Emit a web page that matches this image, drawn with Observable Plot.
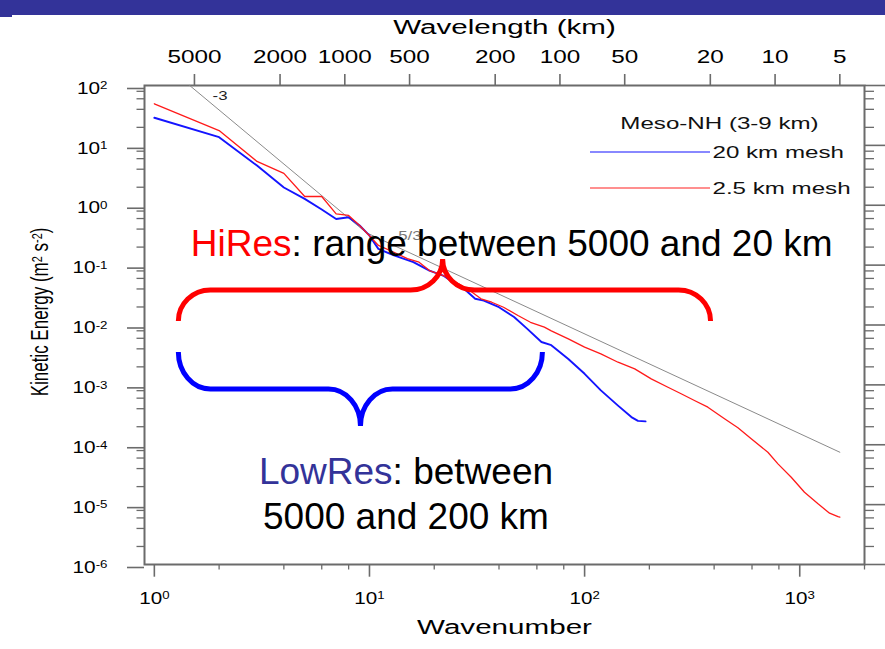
<!DOCTYPE html>
<html><head><meta charset="utf-8">
<script src="https://cdn.jsdelivr.net/npm/d3@7"></script>
<script src="https://cdn.jsdelivr.net/npm/@observablehq/plot@0.6"></script>
<style>
html,body{margin:0;padding:0;background:#fff;}
#wrap{position:relative;width:885px;height:649px;overflow:hidden;background:#fff;}
#band{position:absolute;left:0;top:0;width:885px;height:15px;background:#333399;}
#band2{position:absolute;left:0;top:0;width:12px;height:17px;background:#333399;}
</style></head>
<body><div id="wrap"><div id="chart"></div><div id="band"></div><div id="band2"></div></div>
<script>
// ---- data ----
const seriesNames = ["20 km mesh", "2.5 km mesh"];
const seriesColors = ["#1414ff", "#ff1a1a"];
const legendColors = ["#6060ff", "#ff6a6a"];
const legendTitle = "Meso-NH (3-9 km)";

const blueK = [1,2,3,4,5,6,7,8,9,10,11,13,16,19,22,25,28,31,34,40,47,54,63,70,84,100,119,143,165,177,192];
const blueE = [28.9,13.7,4.6,1.98,1.28,0.85,0.59,0.63,0.46,0.31,0.187,0.145,0.112,0.081,0.067,0.049,0.038,0.0274,0.0256,0.0198,0.0136,0.0087,0.0052,0.0046,0.0027,0.00153,0.00081,0.00045,0.00029,0.00025,0.000246];

const redK = [1,2,3,4,5,6,7,8,9,10,11,13,15,17,19,22,26,30,33,37,42,49,56,65,70,84,100,119,143,171,204,244,281,324,374,447,516,595,711,792,913,1052,1216,1376,1506,1536];
const redE = [49.5,17.7,5.4,3.4,1.40,1.40,0.72,0.675,0.46,0.31,0.213,0.164,0.128,0.112,0.081,0.067,0.0488,0.0353,0.0274,0.024,0.0198,0.0144,0.0111,0.0092,0.0080,0.00588,0.00426,0.0033,0.00239,0.00185,0.00126,0.000914,0.00071,0.000548,0.000424,0.000271,0.000192,0.000126,7.5e-5,4.8e-5,2.87e-5,1.61e-5,1.03e-5,7.2e-6,6.3e-6,6.2e-6];

// reference slope lines (-3 then -5/3)
const refK = [1.46, 9.64, 1536];
const refE = [100, 0.35, 7.5e-5];
const slopeLabels = ["-3", "5/3"];
const slopeLabelK = [2.02, 15.4];
const slopeLabelE = [66, 0.31];

// axes
const xDecades = [1, 10, 100, 1000];
const yDecades = [1e-6, 1e-5, 1e-4, 1e-3, 1e-2, 1e-1, 1, 10, 100];
const minorMult = [2, 4, 6, 8];
const domainKm = 7680;
const wavelengthTicks = [5000, 2000, 1000, 500, 200, 100, 50, 20, 10, 5];
const wavelengthLabels = ["5000", "2000", "1000", "500", "200", "100", "50", "20", "10", "5"];

// annotations
const braceNames = ["HiRes", "LowRes"];
const braceColors = ["#ff0000", "#0000ff"];
const braceStartK = [1.30, 1.30];
const braceEndK = [387, 64];
const braceTipK = [22, 9.13];
const braceLineE = [0.0377, 8.37e-4];
const braceTipE = [0.124, 2.02e-4];
const annoTexts = ["HiRes: range between 5000 and 20 km", "LowRes: between\n5000 and 200 km"];
const annoK = [1.478, 14.78];
const annoE = [0.228, 1.63e-5];
const annoColors = ["#ff0000", "#333399"];

// ---- derived ----
const xMinor = xDecades.flatMap(d => minorMult.map(m => m * d)).filter(v => v <= 2000);
const yMinor = yDecades.slice(0, -1).flatMap(d => minorMult.map(m => m * d));
const wlK = wavelengthTicks.map(L => domainKm / L);
const pow = v => "10^" + Math.round(Math.log10(v));

const axisColor = "#6b6b6b";

function bracesMark(index, scales) {
  const {x, y} = scales;
  const g = d3.create("svg:g").attr("fill", "none").attr("stroke-width", 5);
  const rx = 32;
  braceNames.forEach((name, i) => {
    const x0 = x(braceStartK[i]), x1 = x(braceEndK[i]), xm = x(braceTipK[i]);
    const yl = y(braceLineE[i]), yt = y(braceTipE[i]);
    const ry = Math.abs(yt - yl), s = Math.sign(yt - yl);
    const ye = yl - s * ry;
    const cs = s < 0 ? 1 : 0, ts = 1 - cs;
    const d = `M${x0},${ye} A${rx},${ry} 0 0 ${cs} ${x0 + rx},${yl} L${xm - rx},${yl} A${rx},${ry} 0 0 ${ts} ${xm},${yt} A${rx},${ry} 0 0 ${ts} ${xm + rx},${yl} L${x1 - rx},${yl} A${rx},${ry} 0 0 ${cs} ${x1},${ye}`;
    g.append("path").attr("d", d).attr("stroke", braceColors[i]);
  });
  return g.node();
}

function legendLinesMark(index, scales, values, dims) {
  const g = d3.create("svg:g");
  const right = dims.width - dims.marginRight, top = dims.marginTop;
  legendColors.forEach((c, i) => {
    const yy = top + 67 + i * 36;
    g.append("line").attr("x1", right - 274).attr("x2", right - 154)
      .attr("y1", yy).attr("y2", yy).attr("stroke", c).attr("stroke-width", 1.3);
  });
  return g.node();
}

const plot = Plot.plot({
  width: 885, height: 649,
  marginLeft: 144, marginRight: 21, marginTop: 85, marginBottom: 85,
  x: {type: "log", domain: [0.9, 2000], axis: null},
  y: {type: "log", domain: [1e-6, 1e2], axis: null},
  style: {fontFamily: "'Liberation Sans', Arial, Helvetica, sans-serif", background: "white", color: "black", overflow: "visible"},
  marks: [
    // axis ticks
    Plot.axisY(yDecades, {anchor: "left", tickSize: 17, tickPadding: 20, tickFormat: pow, fontSize: 16, dy: 3, stroke: axisColor, strokeWidth: 1.6, fill: "#000", ariaDescription: "sx=1.3"}),
    Plot.axisY(yMinor, {anchor: "left", tickSize: 7.5, text: null, tickFormat: null, stroke: axisColor, strokeWidth: 1.3}),
    Plot.axisY(yDecades, {anchor: "right", tickSize: 20, tickFormat: null, text: null, stroke: axisColor, strokeWidth: 1.6}),
    Plot.axisY(yMinor, {anchor: "right", tickSize: 9, tickFormat: null, text: null, stroke: axisColor, strokeWidth: 1.3}),
    Plot.axisX(xDecades, {anchor: "bottom", tickSize: 12.7, tickPadding: 15, tickFormat: pow, fontSize: 16.5, stroke: axisColor, strokeWidth: 1.6, fill: "#000", ariaDescription: "sx=1.25"}),
    Plot.axisX(xMinor, {anchor: "bottom", tickSize: 5.5, tickFormat: null, text: null, stroke: axisColor, strokeWidth: 1.3}),
    Plot.axisX(wlK, {anchor: "top", tickSize: 12, tickFormat: null, text: null, stroke: axisColor, strokeWidth: 1.6}),
    Plot.text(wavelengthLabels, {x: wlK, frameAnchor: "top", dy: -22.5, textAnchor: "middle", lineAnchor: "bottom", fontSize: 18, fill: "#000", ariaDescription: "sx=1.35"}),
    Plot.frame({stroke: axisColor, strokeWidth: 2}),
    // titles
    Plot.text(["Wavelength (km)"], {frameAnchor: "top", dy: -52, textAnchor: "middle", lineAnchor: "bottom", fontSize: 21, fill: "#000", ariaDescription: "sx=1.41"}),
    Plot.text(["Wavenumber"], {frameAnchor: "bottom", dy: 69, textAnchor: "middle", lineAnchor: "bottom", fontSize: 21, fill: "#000", ariaDescription: "sx=1.41"}),
    Plot.text(["Kinetic Energy (m^2 s^-2)"], {frameAnchor: "left", dx: -104, dy: -13, rotate: -90, textAnchor: "middle", lineAnchor: "middle", fontSize: 17, fill: "#000", ariaDescription: "sx=1.4"}),
    // reference slope line
    Plot.line(refK, {x: refK, y: refE, stroke: "#8a8a8a", strokeWidth: 1}),
    Plot.text(slopeLabels, {x: slopeLabelK, y: slopeLabelE, fontSize: 12, fill: (d, i) => i === 0 ? "#222" : "#777", ariaDescription: "sx=1.4"}),
    // spectra
    Plot.line(blueK, {x: blueK, y: blueE, stroke: seriesColors[0], strokeWidth: 1.9}),
    Plot.line(redK, {x: redK, y: redE, stroke: seriesColors[1], strokeWidth: 1.3}),
    // legend
    legendLinesMark,
    Plot.text([legendTitle], {frameAnchor: "top-right", dx: -145, dy: 38.3, textAnchor: "middle", lineAnchor: "middle", fontSize: 17, fill: "#111", ariaDescription: "sx=1.42"}),
    Plot.text([seriesNames[0]], {frameAnchor: "top-right", dx: -152, dy: 67.5, textAnchor: "start", lineAnchor: "middle", fontSize: 17, fill: "#111", ariaDescription: "sx=1.42"}),
    Plot.text([seriesNames[1]], {frameAnchor: "top-right", dx: -152, dy: 103.5, textAnchor: "start", lineAnchor: "middle", fontSize: 17, fill: "#111", ariaDescription: "sx=1.42"}),
    // annotations
    bracesMark,
    Plot.text([annoTexts[0]], {x: [annoK[0]], y: [annoE[0]], textAnchor: "start", lineAnchor: "middle", fontSize: 37, fill: "#000"}),
    Plot.text([annoTexts[1]], {x: [annoK[1]], y: [annoE[1]], textAnchor: "middle", lineAnchor: "middle", fontSize: 37, lineHeight: 1.235, fill: "#000"})
  ]
});

document.getElementById("chart").appendChild(plot);

// ---- post-processing: superscripts, coloured words, NCL-like wide glyphs ----
const NS = "http://www.w3.org/2000/svg";
function applySup(el) {
  const s = el.textContent;
  if (!s.includes("^")) return;
  el.textContent = "";
  let raised = false;
  const add = (txt, sup) => {
    if (!txt) return;
    const ts = document.createElementNS(NS, "tspan");
    if (sup) { ts.setAttribute("style", "font-size:0.64em"); ts.setAttribute("dy", raised ? "0" : "-0.42em"); }
    else if (raised) { ts.setAttribute("dy", (0.42 * 0.64).toFixed(3) + "em"); }
    ts.textContent = txt;
    el.appendChild(ts);
    raised = sup;
  };
  const re = /\^(-?\d+)/g;
  let last = 0, m;
  while ((m = re.exec(s))) {
    add(s.slice(last, m.index), false);
    add(m[1], true);
    last = re.lastIndex;
  }
  add(s.slice(last), false);
}
plot.querySelectorAll("text").forEach(t => {
  if (t.children.length === 0) applySup(t);
});
function colorWord(el, word, color) {
  const s = el.textContent;
  if (!s.startsWith(word)) return;
  el.textContent = "";
  const a = document.createElementNS(NS, "tspan");
  a.setAttribute("fill", color);
  a.textContent = word;
  el.appendChild(a);
  el.appendChild(document.createTextNode(s.slice(word.length)));
}
plot.querySelectorAll("text, tspan").forEach(t => {
  if (t.children.length) return;
  if (t.textContent.startsWith("HiRes")) colorWord(t, "HiRes", annoColors[0]);
  else if (t.textContent.startsWith("LowRes")) colorWord(t, "LowRes", annoColors[1]);
});
plot.querySelectorAll("g[aria-description]").forEach(g => {
  const m = /sx=([\d.]+)/.exec(g.getAttribute("aria-description"));
  if (!m) return;
  const s = +m[1];
  g.querySelectorAll("text").forEach(t => {
    const tr = t.getAttribute("transform") || "";
    t.setAttribute("transform", tr + (/rotate/.test(tr) ? ` scale(1,${s})` : ` scale(${s},1)`));
  });
});
</script>
</body></html>
